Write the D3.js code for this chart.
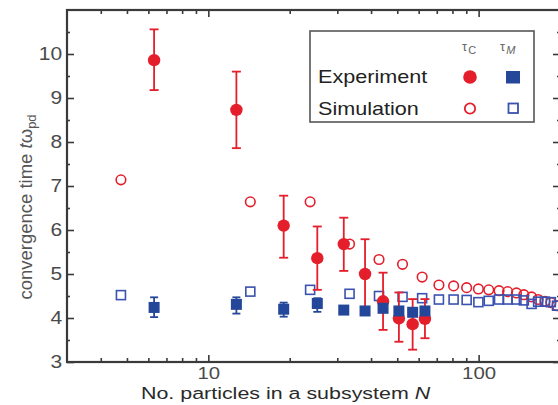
<!DOCTYPE html>
<html><head><meta charset="utf-8">
<script src="https://cdn.jsdelivr.net/npm/d3@7"></script>
<style>
body{margin:0;background:#fff}
svg{display:block}
text{font-family:"Liberation Sans",Arial,sans-serif}
</style>
</head><body><svg id="c" width="558" height="405"></svg>
<script>
// ---- data ----
const expN      = [6.3, 12.7, 19, 25.3, 31.7, 38, 44.3, 50.7, 57, 63.3];
const expTauC   = [9.86, 8.73, 6.10, 5.36, 5.68, 5.00, 4.38, 3.99, 3.86, 3.98];
const expTauCLo = [9.18, 7.86, 5.37, 4.64, 5.07, 4.23, 3.73, 3.46, 3.28, 3.54];
const expTauCHi = [10.56, 9.60, 6.78, 6.08, 6.28, 5.79, 5.03, 4.58, 4.43, 4.43];
const expTauM   = [4.24, 4.31, 4.20, 4.33, 4.18, 4.16, 4.22, 4.16, 4.13, 4.16];
const expTauMLo = [4.02, 4.10, 4.03, 4.14, 4.13, 4.11, 4.17, 4.11, 4.08, 4.11];
const expTauMHi = [4.47, 4.47, 4.35, 4.45, 4.23, 4.21, 4.27, 4.21, 4.18, 4.21];
const simN      = [4.75, 14.3, 23.8, 33.3, 42.8, 52.3, 61.8, 71.3, 80.8, 90.3, 99.8, 109, 119, 128, 138, 147, 157, 166, 176, 185, 195];
const simTauC   = [7.14, 6.64, 6.64, 5.68, 5.33, 5.22, 4.93, 4.75, 4.73, 4.69, 4.66, 4.64, 4.62, 4.60, 4.57, 4.53, 4.48, 4.42, 4.38, 4.35, 4.28];
const simTauM   = [4.52, 4.60, 4.64, 4.55, 4.50, 4.48, 4.45, 4.42, 4.42, 4.41, 4.36, 4.39, 4.42, 4.42, 4.42, 4.40, 4.32, 4.37, 4.37, 4.36, 4.28];
const xTicks  = [10, 100];
const xMinor  = [4, 5, 6, 7, 8, 9, 20, 30, 40, 50, 60, 70, 80, 90, 200];
const yTicks  = [3, 4, 5, 6, 7, 8, 9, 10];
const yMinor  = [3.5, 4.5, 5.5, 6.5, 7.5, 8.5, 9.5, 10.5];
const legendRows = ["Experiment", "Simulation"];

// ---- style ----
const RED = "#e41e2b", BLUE = "#24479a", BLUE2 = "#3a52b0";
const AX = "#3a3a3a";
const svg = d3.select("#c");
const L = 67, R = 560, T = 10, B = 362;
const x = d3.scaleLog().domain([3, 200]).range([L, R]);
const y = d3.scaleLinear().domain([3, 11]).range([B, T]);
const SX = "scale(1.2,1)";

function styleAxis(g){
  g.attr("color", AX);
  g.select(".domain").remove();
  g.selectAll("line").attr("stroke-width", 1.6);
}
// bottom
const gb = svg.append("g").attr("transform", `translate(0,${B})`)
  .call(d3.axisBottom(x).tickValues(xTicks).tickSize(-7).tickPadding(5).tickFormat(d3.format("d")));
styleAxis(gb);
gb.selectAll("text").attr("font-size", 17).attr("fill", "#4a4a4a").attr("transform", SX);
const gbm = svg.append("g").attr("transform", `translate(0,${B})`)
  .call(d3.axisBottom(x).tickValues(xMinor).tickSize(-4).tickFormat(""));
styleAxis(gbm);
// top
const gt = svg.append("g").attr("transform", `translate(0,${T})`)
  .call(d3.axisTop(x).tickValues(xTicks).tickSize(-7).tickFormat(""));
styleAxis(gt);
const gtm = svg.append("g").attr("transform", `translate(0,${T})`)
  .call(d3.axisTop(x).tickValues(xMinor).tickSize(-4).tickFormat(""));
styleAxis(gtm);
// left
const gl = svg.append("g").attr("transform", `translate(${L},0)`)
  .call(d3.axisLeft(y).tickValues(yTicks).tickSize(-7).tickPadding(4).tickFormat(d3.format("d")));
styleAxis(gl);
gl.selectAll("text").attr("font-size", 17.5).attr("fill", "#4a4a4a").attr("transform", SX);
const glm = svg.append("g").attr("transform", `translate(${L},0)`)
  .call(d3.axisLeft(y).tickValues(yMinor).tickSize(-3).tickFormat(""));
styleAxis(glm);
// right
const gr = svg.append("g").attr("transform", `translate(${R},0)`)
  .call(d3.axisRight(y).tickValues(yTicks).tickSize(-7).tickFormat(""));
styleAxis(gr);
const grm = svg.append("g").attr("transform", `translate(${R},0)`)
  .call(d3.axisRight(y).tickValues(yMinor).tickSize(-3).tickFormat(""));
styleAxis(grm);
// frame
svg.append("rect").attr("x", L).attr("y", T).attr("width", R - L).attr("height", B - T)
  .attr("fill", "none").attr("stroke", AX).attr("stroke-width", 2.2);

// ---- data marks ----
const sim = simN.map((n, i) => ({n, c: simTauC[i], m: simTauM[i]}));
const exp = expN.map((n, i) => ({n, c: expTauC[i], cl: expTauCLo[i], ch: expTauCHi[i],
  m: expTauM[i], ml: expTauMLo[i], mh: expTauMHi[i]}));

svg.append("g").selectAll("circle").data(sim).join("circle")
  .attr("cx", d => x(d.n)).attr("cy", d => y(d.c)).attr("r", 4.8)
  .attr("fill", "none").attr("stroke", RED).attr("stroke-width", 1.6);
svg.append("g").selectAll("rect").data(sim).join("rect")
  .attr("x", d => x(d.n) - 4.5).attr("y", d => y(d.m) - 4.5).attr("width", 9).attr("height", 9)
  .attr("fill", "none").attr("stroke", BLUE2).attr("stroke-width", 1.6);

function errBars(lo, hi, color, cap){
  const g = svg.append("g").attr("stroke", color).attr("stroke-width", 1.8);
  g.selectAll("line.v").data(exp).join("line").attr("class", "v")
    .attr("x1", d => x(d.n)).attr("x2", d => x(d.n)).attr("y1", d => y(d[lo])).attr("y2", d => y(d[hi]));
  g.selectAll("line.t").data(exp).join("line").attr("class", "t")
    .attr("x1", d => x(d.n) - cap).attr("x2", d => x(d.n) + cap).attr("y1", d => y(d[hi])).attr("y2", d => y(d[hi]));
  g.selectAll("line.b").data(exp).join("line").attr("class", "b")
    .attr("x1", d => x(d.n) - cap).attr("x2", d => x(d.n) + cap).attr("y1", d => y(d[lo])).attr("y2", d => y(d[lo]));
}
svg.append("g").selectAll("circle").data(exp).join("circle")
  .attr("cx", d => x(d.n)).attr("cy", d => y(d.c)).attr("r", 6.2).attr("fill", RED);
errBars("cl", "ch", RED, 4.5);
svg.append("g").selectAll("rect").data(exp).join("rect")
  .attr("x", d => x(d.n) - 5.5).attr("y", d => y(d.m) - 5.5).attr("width", 11).attr("height", 11)
  .attr("fill", BLUE);
errBars("ml", "mh", BLUE, 4);

// ---- legend ----
const lg = svg.append("g");
lg.append("rect").attr("x", 310).attr("y", 31).attr("width", 224).attr("height", 91)
  .attr("fill", "#fff").attr("stroke", "#555").attr("stroke-width", 1.6);
legendRows.forEach((t, i) => {
  lg.append("text").attr("transform", `translate(318,${83 + i * 32}) ${SX}`)
    .attr("font-size", 18).attr("fill", "#222").text(t);
});
const h1 = lg.append("text").attr("x", 462).attr("y", 51).attr("font-size", 13).attr("fill", "#666");
h1.append("tspan").text("τ");
h1.append("tspan").attr("font-size", 11).attr("dy", 3).attr("dx", 1).text("C");
const h2 = lg.append("text").attr("x", 500).attr("y", 51).attr("font-size", 13).attr("fill", "#666");
h2.append("tspan").text("τ");
h2.append("tspan").attr("font-size", 11).attr("dy", 3).attr("dx", 1).attr("font-style", "italic").text("M");
lg.append("circle").attr("cx", 470).attr("cy", 77).attr("r", 6.8).attr("fill", RED);
lg.append("rect").attr("x", 506).attr("y", 71).attr("width", 14).attr("height", 12.5).attr("fill", BLUE);
lg.append("circle").attr("cx", 470).attr("cy", 108.5).attr("r", 5.2).attr("fill", "none").attr("stroke", RED).attr("stroke-width", 1.8);
lg.append("rect").attr("x", 508.5).attr("y", 103.5).attr("width", 9.5).attr("height", 9.5).attr("fill", "none").attr("stroke", BLUE2).attr("stroke-width", 1.8);

// ---- axis titles ----
const xt = svg.append("text").attr("transform", "translate(141,399) scale(1.26,1)")
  .attr("font-size", 17).attr("fill", "#2a2a2a");
xt.append("tspan").text("No. particles in a subsystem ");
xt.append("tspan").attr("font-style", "italic").text("N");

const yt = svg.append("text").attr("transform", "translate(32,207) rotate(-90)")
  .attr("text-anchor", "middle").attr("font-size", 18.5).attr("fill", "#555");
yt.append("tspan").text("convergence time ");
yt.append("tspan").attr("font-style", "italic").text("t");
yt.append("tspan").text("ω");
yt.append("tspan").attr("font-size", 13).attr("dy", 4).text("pd");
</script>
</body></html>
